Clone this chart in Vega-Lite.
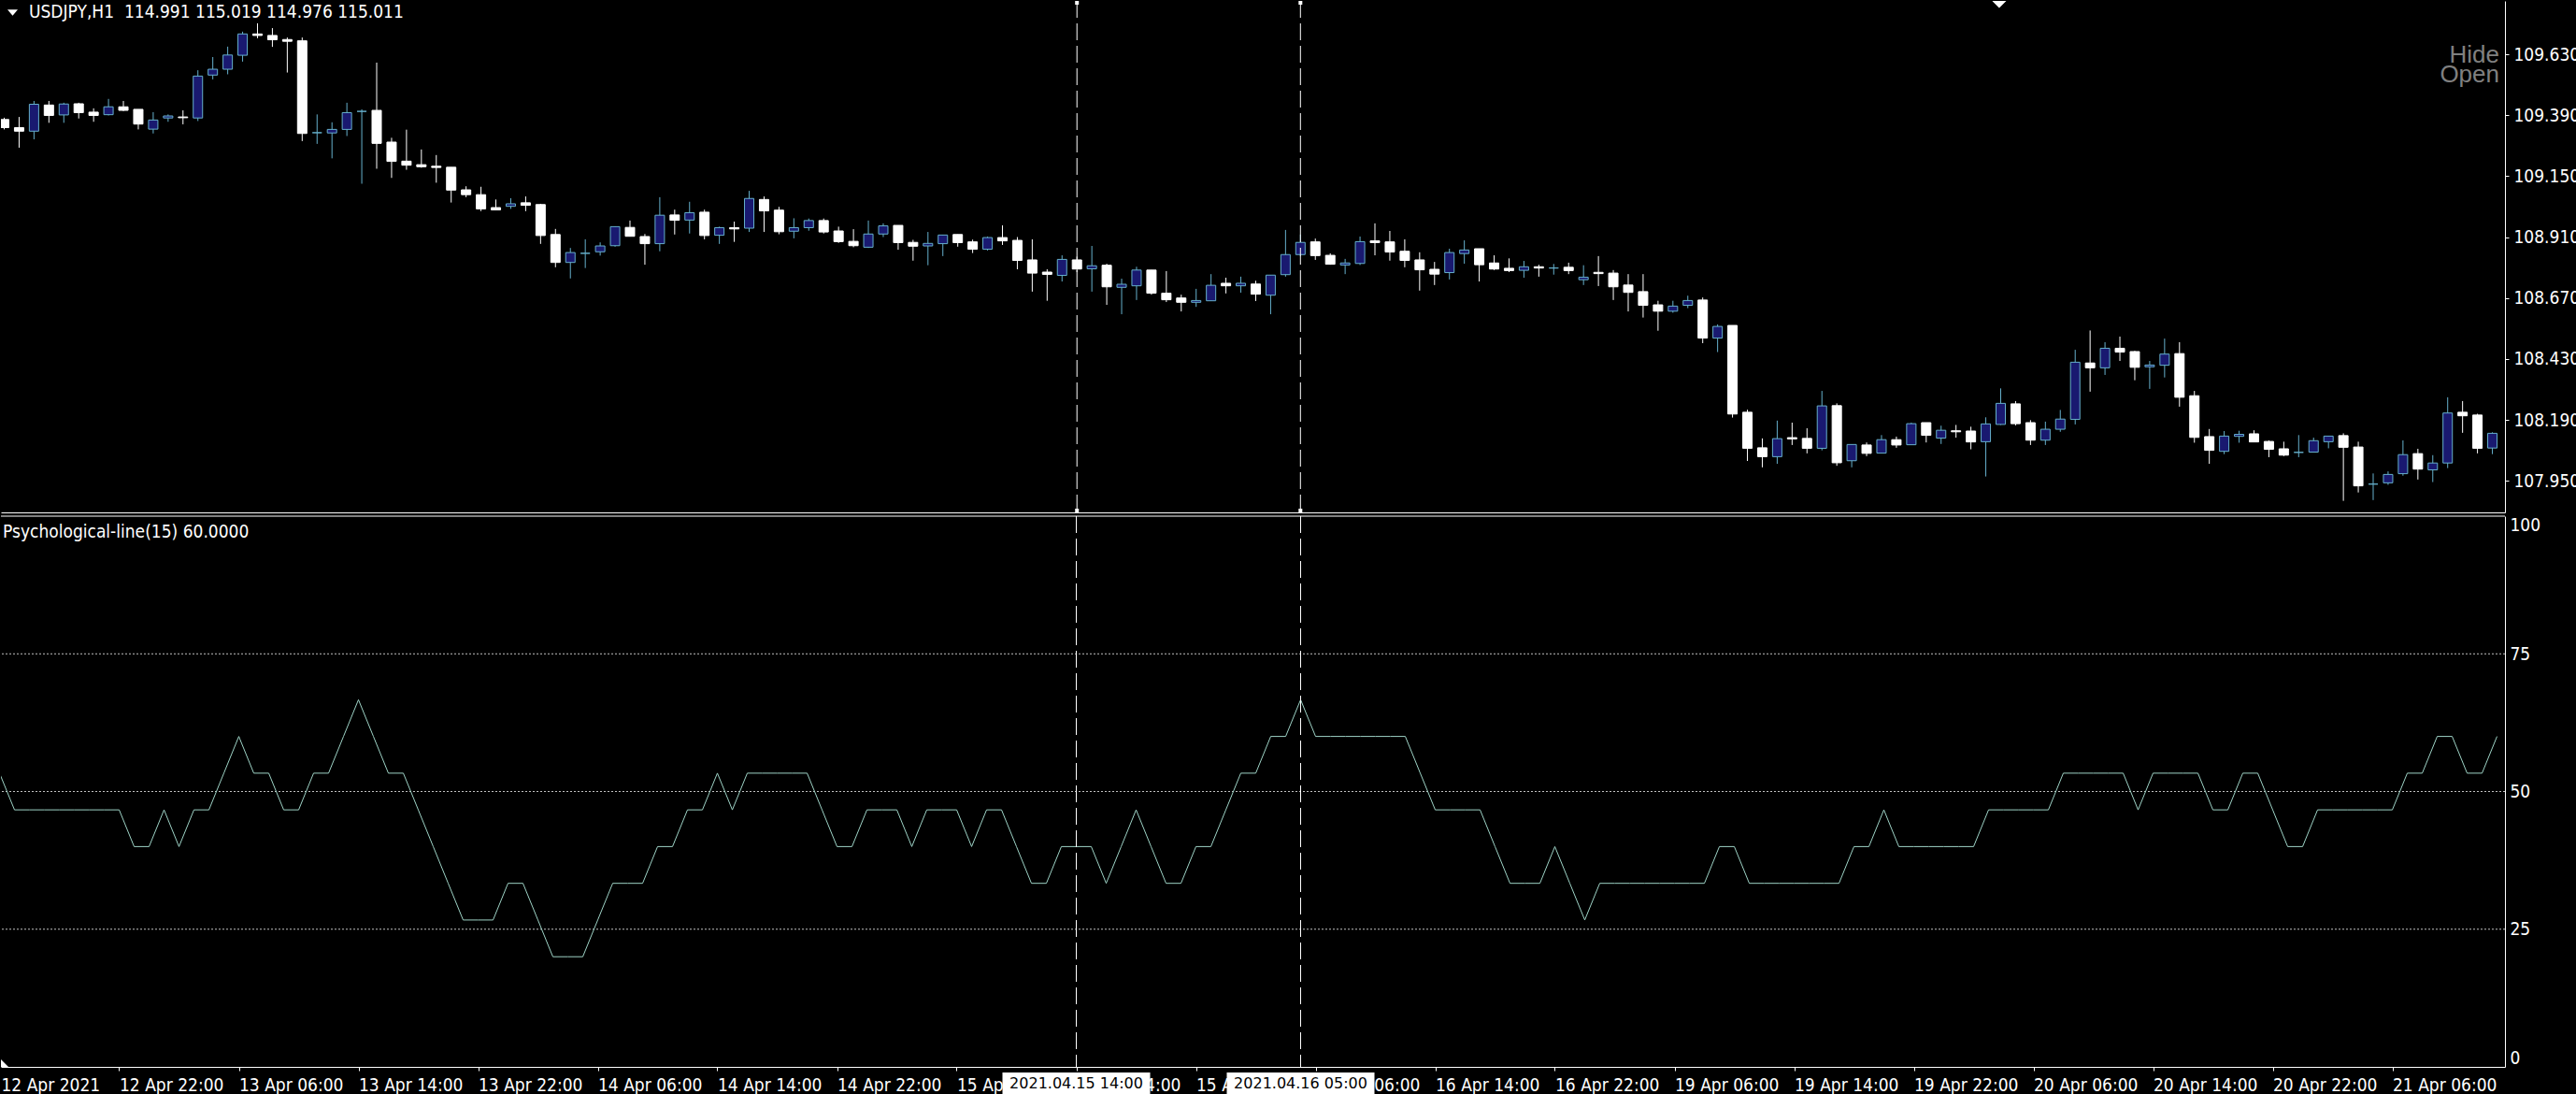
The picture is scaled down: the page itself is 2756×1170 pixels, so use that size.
{
"$schema": "https://vega.github.io/schema/vega-lite/v6.json",
"background": "black",
"padding": {"left": 0, "top": 0, "right": 0, "bottom": 1},
"bounds": "flush",
"spacing": 4,
"config": {
  "view": {"stroke": null},
  "font": "Liberation Sans Narrow, DejaVu Sans Condensed, Liberation Sans",
  "axis": {"labelFont": "Liberation Sans Narrow, DejaVu Sans Condensed, Liberation Sans", "labelFontSize": 19, "labelColor": "white", "domainColor": "white", "tickColor": "white", "grid": false, "domainWidth": 1, "tickWidth": 1}
},
"datasets": {
"cross": [{"i": 72, "lab": "2021.04.15 14:00"}, {"i": 87, "lab": "2021.04.16 05:00"}],
"lv": [{"v": 25}, {"v": 50}, {"v": 75}],
"bars": [
{"i":0,"o":109.373,"h":109.380,"l":109.334,"c":109.341,"p":53.33},
{"i":1,"o":109.341,"h":109.383,"l":109.262,"c":109.327,"p":46.67},
{"i":2,"o":109.327,"h":109.446,"l":109.295,"c":109.433,"p":46.67},
{"i":3,"o":109.430,"h":109.446,"l":109.360,"c":109.389,"p":46.67},
{"i":4,"o":109.391,"h":109.439,"l":109.360,"c":109.434,"p":46.67},
{"i":5,"o":109.435,"h":109.439,"l":109.377,"c":109.400,"p":46.67},
{"i":6,"o":109.402,"h":109.417,"l":109.364,"c":109.389,"p":46.67},
{"i":7,"o":109.392,"h":109.454,"l":109.389,"c":109.423,"p":46.67},
{"i":8,"o":109.423,"h":109.446,"l":109.406,"c":109.409,"p":46.67},
{"i":9,"o":109.413,"h":109.413,"l":109.334,"c":109.355,"p":40},
{"i":10,"o":109.335,"h":109.402,"l":109.318,"c":109.371,"p":40},
{"i":11,"o":109.379,"h":109.393,"l":109.364,"c":109.387,"p":46.67},
{"i":12,"o":109.383,"h":109.409,"l":109.354,"c":109.380,"p":40},
{"i":13,"o":109.379,"h":109.567,"l":109.367,"c":109.544,"p":46.67},
{"i":14,"o":109.548,"h":109.619,"l":109.531,"c":109.571,"p":46.67},
{"i":15,"o":109.571,"h":109.660,"l":109.551,"c":109.627,"p":53.33},
{"i":16,"o":109.626,"h":109.719,"l":109.601,"c":109.710,"p":60},
{"i":17,"o":109.710,"h":109.752,"l":109.693,"c":109.704,"p":53.33},
{"i":18,"o":109.704,"h":109.733,"l":109.659,"c":109.687,"p":53.33},
{"i":19,"o":109.688,"h":109.696,"l":109.558,"c":109.681,"p":46.67},
{"i":20,"o":109.683,"h":109.696,"l":109.288,"c":109.318,"p":46.67},
{"i":21,"o":109.321,"h":109.393,"l":109.277,"c":109.321,"p":53.33},
{"i":22,"o":109.320,"h":109.362,"l":109.220,"c":109.334,"p":53.33},
{"i":23,"o":109.334,"h":109.439,"l":109.308,"c":109.400,"p":60},
{"i":24,"o":109.405,"h":109.413,"l":109.120,"c":109.405,"p":66.67},
{"i":25,"o":109.409,"h":109.597,"l":109.179,"c":109.279,"p":60},
{"i":26,"o":109.284,"h":109.301,"l":109.143,"c":109.208,"p":53.33},
{"i":27,"o":109.209,"h":109.333,"l":109.175,"c":109.193,"p":53.33},
{"i":28,"o":109.195,"h":109.255,"l":109.183,"c":109.187,"p":46.67},
{"i":29,"o":109.189,"h":109.233,"l":109.124,"c":109.184,"p":40},
{"i":30,"o":109.185,"h":109.185,"l":109.046,"c":109.095,"p":33.33},
{"i":31,"o":109.096,"h":109.110,"l":109.067,"c":109.077,"p":26.67},
{"i":32,"o":109.077,"h":109.108,"l":109.012,"c":109.021,"p":26.67},
{"i":33,"o":109.026,"h":109.058,"l":109.017,"c":109.017,"p":26.67},
{"i":34,"o":109.031,"h":109.063,"l":109.021,"c":109.041,"p":33.33},
{"i":35,"o":109.045,"h":109.070,"l":109.012,"c":109.035,"p":33.33},
{"i":36,"o":109.038,"h":109.041,"l":108.883,"c":108.916,"p":26.67},
{"i":37,"o":108.920,"h":108.942,"l":108.791,"c":108.810,"p":20},
{"i":38,"o":108.810,"h":108.867,"l":108.747,"c":108.849,"p":20},
{"i":39,"o":108.846,"h":108.901,"l":108.788,"c":108.846,"p":20},
{"i":40,"o":108.852,"h":108.889,"l":108.837,"c":108.875,"p":26.67},
{"i":41,"o":108.876,"h":108.951,"l":108.872,"c":108.951,"p":33.33},
{"i":42,"o":108.948,"h":108.975,"l":108.913,"c":108.913,"p":33.33},
{"i":43,"o":108.912,"h":108.922,"l":108.801,"c":108.884,"p":33.33},
{"i":44,"o":108.884,"h":109.067,"l":108.854,"c":108.996,"p":40},
{"i":45,"o":108.997,"h":109.018,"l":108.920,"c":108.976,"p":40},
{"i":46,"o":108.977,"h":109.049,"l":108.924,"c":109.006,"p":46.67},
{"i":47,"o":109.008,"h":109.018,"l":108.901,"c":108.916,"p":46.67},
{"i":48,"o":108.917,"h":108.951,"l":108.883,"c":108.947,"p":53.33},
{"i":49,"o":108.947,"h":108.971,"l":108.891,"c":108.942,"p":46.67},
{"i":50,"o":108.945,"h":109.092,"l":108.930,"c":109.062,"p":53.33},
{"i":51,"o":109.058,"h":109.070,"l":108.930,"c":109.013,"p":53.33},
{"i":52,"o":109.016,"h":109.029,"l":108.921,"c":108.931,"p":53.33},
{"i":53,"o":108.933,"h":108.984,"l":108.905,"c":108.947,"p":53.33},
{"i":54,"o":108.947,"h":108.983,"l":108.935,"c":108.975,"p":53.33},
{"i":55,"o":108.975,"h":108.983,"l":108.924,"c":108.930,"p":46.67},
{"i":56,"o":108.934,"h":108.951,"l":108.887,"c":108.892,"p":40},
{"i":57,"o":108.893,"h":108.941,"l":108.870,"c":108.876,"p":40},
{"i":58,"o":108.870,"h":108.975,"l":108.867,"c":108.922,"p":46.67},
{"i":59,"o":108.922,"h":108.964,"l":108.910,"c":108.954,"p":46.67},
{"i":60,"o":108.956,"h":108.956,"l":108.860,"c":108.888,"p":46.67},
{"i":61,"o":108.889,"h":108.899,"l":108.817,"c":108.874,"p":40},
{"i":62,"o":108.875,"h":108.930,"l":108.799,"c":108.885,"p":46.67},
{"i":63,"o":108.884,"h":108.918,"l":108.835,"c":108.918,"p":46.67},
{"i":64,"o":108.920,"h":108.920,"l":108.872,"c":108.888,"p":46.67},
{"i":65,"o":108.891,"h":108.900,"l":108.847,"c":108.862,"p":40},
{"i":66,"o":108.862,"h":108.912,"l":108.857,"c":108.908,"p":46.67},
{"i":67,"o":108.908,"h":108.956,"l":108.879,"c":108.895,"p":46.67},
{"i":68,"o":108.897,"h":108.910,"l":108.783,"c":108.818,"p":40},
{"i":69,"o":108.820,"h":108.901,"l":108.695,"c":108.768,"p":33.33},
{"i":70,"o":108.772,"h":108.783,"l":108.659,"c":108.763,"p":33.33},
{"i":71,"o":108.759,"h":108.838,"l":108.735,"c":108.822,"p":40},
{"i":72,"o":108.820,"h":108.833,"l":108.772,"c":108.784,"p":40},
{"i":73,"o":108.785,"h":108.875,"l":108.695,"c":108.797,"p":40},
{"i":74,"o":108.799,"h":108.805,"l":108.643,"c":108.714,"p":33.33},
{"i":75,"o":108.712,"h":108.746,"l":108.606,"c":108.724,"p":40},
{"i":76,"o":108.718,"h":108.793,"l":108.662,"c":108.780,"p":46.67},
{"i":77,"o":108.780,"h":108.780,"l":108.683,"c":108.689,"p":40},
{"i":78,"o":108.689,"h":108.776,"l":108.654,"c":108.663,"p":33.33},
{"i":79,"o":108.670,"h":108.683,"l":108.617,"c":108.653,"p":33.33},
{"i":80,"o":108.653,"h":108.706,"l":108.635,"c":108.660,"p":40},
{"i":81,"o":108.659,"h":108.764,"l":108.659,"c":108.720,"p":40},
{"i":82,"o":108.728,"h":108.750,"l":108.688,"c":108.718,"p":46.67},
{"i":83,"o":108.718,"h":108.754,"l":108.691,"c":108.728,"p":53.33},
{"i":84,"o":108.725,"h":108.738,"l":108.658,"c":108.685,"p":53.33},
{"i":85,"o":108.681,"h":108.760,"l":108.606,"c":108.760,"p":60},
{"i":86,"o":108.762,"h":108.938,"l":108.754,"c":108.841,"p":60},
{"i":87,"o":108.841,"h":108.920,"l":108.834,"c":108.889,"p":66.67},
{"i":88,"o":108.891,"h":108.904,"l":108.820,"c":108.837,"p":60},
{"i":89,"o":108.838,"h":108.846,"l":108.801,"c":108.803,"p":60},
{"i":90,"o":108.800,"h":108.824,"l":108.764,"c":108.808,"p":60},
{"i":91,"o":108.806,"h":108.912,"l":108.800,"c":108.892,"p":60},
{"i":92,"o":108.895,"h":108.964,"l":108.838,"c":108.888,"p":60},
{"i":93,"o":108.891,"h":108.934,"l":108.817,"c":108.851,"p":60},
{"i":94,"o":108.854,"h":108.901,"l":108.791,"c":108.818,"p":60},
{"i":95,"o":108.820,"h":108.850,"l":108.699,"c":108.781,"p":53.33},
{"i":96,"o":108.783,"h":108.812,"l":108.721,"c":108.764,"p":46.67},
{"i":97,"o":108.770,"h":108.864,"l":108.743,"c":108.849,"p":46.67},
{"i":98,"o":108.845,"h":108.897,"l":108.805,"c":108.859,"p":46.67},
{"i":99,"o":108.864,"h":108.864,"l":108.735,"c":108.801,"p":46.67},
{"i":100,"o":108.808,"h":108.838,"l":108.780,"c":108.784,"p":40},
{"i":101,"o":108.787,"h":108.826,"l":108.772,"c":108.778,"p":33.33},
{"i":102,"o":108.779,"h":108.816,"l":108.750,"c":108.793,"p":33.33},
{"i":103,"o":108.793,"h":108.801,"l":108.754,"c":108.788,"p":33.33},
{"i":104,"o":108.788,"h":108.804,"l":108.762,"c":108.788,"p":40},
{"i":105,"o":108.791,"h":108.809,"l":108.764,"c":108.778,"p":33.33},
{"i":106,"o":108.742,"h":108.799,"l":108.721,"c":108.752,"p":26.67},
{"i":107,"o":108.771,"h":108.835,"l":108.717,"c":108.766,"p":33.33},
{"i":108,"o":108.768,"h":108.780,"l":108.662,"c":108.714,"p":33.33},
{"i":109,"o":108.721,"h":108.764,"l":108.617,"c":108.692,"p":33.33},
{"i":110,"o":108.695,"h":108.764,"l":108.593,"c":108.641,"p":33.33},
{"i":111,"o":108.643,"h":108.659,"l":108.541,"c":108.618,"p":33.33},
{"i":112,"o":108.618,"h":108.659,"l":108.612,"c":108.638,"p":33.33},
{"i":113,"o":108.641,"h":108.679,"l":108.630,"c":108.660,"p":33.33},
{"i":114,"o":108.662,"h":108.672,"l":108.492,"c":108.512,"p":33.33},
{"i":115,"o":108.512,"h":108.566,"l":108.457,"c":108.558,"p":40},
{"i":116,"o":108.562,"h":108.562,"l":108.199,"c":108.213,"p":40},
{"i":117,"o":108.220,"h":108.230,"l":108.028,"c":108.078,"p":33.33},
{"i":118,"o":108.080,"h":108.117,"l":108.003,"c":108.045,"p":33.33},
{"i":119,"o":108.045,"h":108.187,"l":108.017,"c":108.116,"p":33.33},
{"i":120,"o":108.120,"h":108.179,"l":108.091,"c":108.115,"p":33.33},
{"i":121,"o":108.117,"h":108.157,"l":108.058,"c":108.078,"p":33.33},
{"i":122,"o":108.078,"h":108.304,"l":108.070,"c":108.245,"p":33.33},
{"i":123,"o":108.246,"h":108.255,"l":108.009,"c":108.021,"p":33.33},
{"i":124,"o":108.029,"h":108.093,"l":108.003,"c":108.093,"p":40},
{"i":125,"o":108.091,"h":108.101,"l":108.047,"c":108.058,"p":40},
{"i":126,"o":108.059,"h":108.130,"l":108.059,"c":108.112,"p":46.67},
{"i":127,"o":108.112,"h":108.124,"l":108.080,"c":108.091,"p":40},
{"i":128,"o":108.092,"h":108.179,"l":108.092,"c":108.175,"p":40},
{"i":129,"o":108.179,"h":108.179,"l":108.101,"c":108.129,"p":40},
{"i":130,"o":108.118,"h":108.167,"l":108.095,"c":108.149,"p":40},
{"i":131,"o":108.147,"h":108.170,"l":108.120,"c":108.143,"p":40},
{"i":132,"o":108.146,"h":108.163,"l":108.074,"c":108.103,"p":40},
{"i":133,"o":108.104,"h":108.200,"l":107.967,"c":108.174,"p":46.67},
{"i":134,"o":108.172,"h":108.314,"l":108.170,"c":108.255,"p":46.67},
{"i":135,"o":108.253,"h":108.264,"l":108.168,"c":108.175,"p":46.67},
{"i":136,"o":108.179,"h":108.189,"l":108.091,"c":108.110,"p":46.67},
{"i":137,"o":108.110,"h":108.183,"l":108.091,"c":108.153,"p":46.67},
{"i":138,"o":108.153,"h":108.229,"l":108.143,"c":108.193,"p":53.33},
{"i":139,"o":108.192,"h":108.466,"l":108.172,"c":108.417,"p":53.33},
{"i":140,"o":108.414,"h":108.542,"l":108.301,"c":108.395,"p":53.33},
{"i":141,"o":108.395,"h":108.496,"l":108.367,"c":108.472,"p":53.33},
{"i":142,"o":108.472,"h":108.518,"l":108.422,"c":108.457,"p":53.33},
{"i":143,"o":108.459,"h":108.462,"l":108.346,"c":108.397,"p":46.67},
{"i":144,"o":108.399,"h":108.422,"l":108.312,"c":108.406,"p":53.33},
{"i":145,"o":108.405,"h":108.510,"l":108.357,"c":108.449,"p":53.33},
{"i":146,"o":108.451,"h":108.496,"l":108.242,"c":108.279,"p":53.33},
{"i":147,"o":108.285,"h":108.304,"l":108.100,"c":108.121,"p":53.33},
{"i":148,"o":108.124,"h":108.154,"l":108.017,"c":108.070,"p":46.67},
{"i":149,"o":108.066,"h":108.146,"l":108.055,"c":108.126,"p":46.67},
{"i":150,"o":108.125,"h":108.147,"l":108.100,"c":108.133,"p":53.33},
{"i":151,"o":108.135,"h":108.149,"l":108.103,"c":108.103,"p":53.33},
{"i":152,"o":108.105,"h":108.109,"l":108.043,"c":108.074,"p":46.67},
{"i":153,"o":108.076,"h":108.104,"l":108.047,"c":108.051,"p":40},
{"i":154,"o":108.062,"h":108.130,"l":108.043,"c":108.062,"p":40},
{"i":155,"o":108.063,"h":108.120,"l":108.063,"c":108.108,"p":46.67},
{"i":156,"o":108.104,"h":108.126,"l":108.078,"c":108.126,"p":46.67},
{"i":157,"o":108.128,"h":108.137,"l":107.871,"c":108.082,"p":46.67},
{"i":158,"o":108.083,"h":108.104,"l":107.904,"c":107.930,"p":46.67},
{"i":159,"o":107.937,"h":107.979,"l":107.874,"c":107.937,"p":46.67},
{"i":160,"o":107.942,"h":107.987,"l":107.934,"c":107.975,"p":46.67},
{"i":161,"o":107.978,"h":108.109,"l":107.970,"c":108.053,"p":53.33},
{"i":162,"o":108.057,"h":108.076,"l":107.955,"c":107.996,"p":53.33},
{"i":163,"o":107.993,"h":108.051,"l":107.945,"c":108.020,"p":60},
{"i":164,"o":108.020,"h":108.279,"l":108.000,"c":108.217,"p":60},
{"i":165,"o":108.220,"h":108.264,"l":108.139,"c":108.206,"p":53.33},
{"i":166,"o":108.209,"h":108.214,"l":108.058,"c":108.078,"p":53.33},
{"i":167,"o":108.079,"h":108.141,"l":108.055,"c":108.137,"p":60}
]
},
"vconcat": [
{
  "width": 2679,
  "height": 547,
  "layer": [
    {
      "data": {"name": "bars"},
      "mark": {"type": "rule", "clip": true, "strokeWidth": 1},
      "encoding": {
        "x": {"field": "i", "type": "quantitative", "scale": {"domain": [0.09375, 167.53125], "nice": false, "zero": false},
              "axis": {"orient": "bottom", "labels": false, "ticks": false, "domain": true, "title": null}},
        "y": {"field": "l", "type": "quantitative", "scale": {"domain": [107.8255, 109.84], "nice": false, "zero": false},
              "axis": {"orient": "right", "values": [107.95, 108.19, 108.43, 108.67, 108.91, 109.15, 109.39, 109.63], "format": ".3f", "tickSize": 4, "labelPadding": 5, "title": null, "labelBaseline": "middle"}},
        "y2": {"field": "h"},
        "color": {"condition": {"test": "datum.c >= datum.o", "value": "#66b0cc"}, "value": "#ffffff"}
      }
    },
    {
      "data": {"name": "bars"},
      "mark": {"type": "bar", "width": 10, "clip": true, "strokeWidth": 1},
      "encoding": {
        "x": {"field": "i", "type": "quantitative"},
        "y": {"field": "o", "type": "quantitative"},
        "y2": {"field": "c"},
        "fill": {"condition": {"test": "datum.c >= datum.o", "value": "#191970"}, "value": "#ffffff"},
        "stroke": {"condition": {"test": "datum.c >= datum.o", "value": "#66b0cc"}, "value": "#ffffff"}
      }
    },
    {
      "data": {"name": "cross"},
      "mark": {"type": "rule", "strokeDash": [18, 6], "color": "#ffffff", "strokeWidth": 1},
      "encoding": {"x": {"field": "i", "type": "quantitative"}}
    },
    {
      "data": {"name": "cross"},
      "mark": {"type": "point", "shape": "square", "size": 16, "filled": true, "color": "#ffffff", "opacity": 1, "yOffset": 2},
      "encoding": {"x": {"field": "i", "type": "quantitative"}, "y": {"datum": 109.84}}
    },
    {
      "data": {"name": "cross"},
      "mark": {"type": "point", "shape": "square", "size": 16, "filled": true, "color": "#ffffff", "opacity": 1, "yOffset": -2},
      "encoding": {"x": {"field": "i", "type": "quantitative"}, "y": {"datum": 107.8255}}
    },
    {
      "data": {"values": [{"t": "USDJPY,H1\u00a0 114.991 115.019 114.976 115.011"}]},
      "mark": {"type": "text", "align": "left", "baseline": "alphabetic", "dx": 25, "dy": 18, "color": "#ffffff", "fontSize": 19},
      "encoding": {"x": {"datum": 0.09375}, "y": {"datum": 109.84}, "text": {"field": "t"}}
    },
    {
      "data": {"values": [{"t": "Hide"}]},
      "mark": {"type": "text", "align": "right", "baseline": "alphabetic", "dx": -1, "dy": 66, "color": "#808080", "fontSize": 26, "font": "Liberation Sans"},
      "encoding": {"x": {"datum": 167.53125}, "y": {"datum": 109.84}, "text": {"field": "t"}}
    },
    {
      "data": {"values": [{"t": "Open"}]},
      "mark": {"type": "text", "align": "right", "baseline": "alphabetic", "dx": -1, "dy": 87, "color": "#808080", "fontSize": 26, "font": "Liberation Sans"},
      "encoding": {"x": {"datum": 167.53125}, "y": {"datum": 109.84}, "text": {"field": "t"}}
    },
    {
      "data": {"values": [{}]},
      "mark": {"type": "point", "shape": "M-1,-0.6L1,-0.6L0,0.6Z", "size": 121, "filled": true, "color": "#ffffff", "opacity": 1, "xOffset": 7.5, "yOffset": 12.5},
      "encoding": {"x": {"datum": 0.09375}, "y": {"datum": 109.84}}
    },
    {
      "data": {"values": [{}]},
      "mark": {"type": "point", "shape": "M-1,0L1,0L0,1Z", "size": 225, "filled": true, "color": "#ffffff", "opacity": 1},
      "encoding": {"x": {"datum": 133.9}, "y": {"datum": 109.84}}
    }
  ]
},
{
  "width": 2679,
  "height": 589,
  "layer": [
    {
      "data": {"name": "lv"},
      "mark": {"type": "rule", "strokeDash": [2, 2], "color": "#c0c0c0", "strokeWidth": 1},
      "encoding": {
        "y": {"field": "v", "type": "quantitative", "scale": {"domain": [0, 100], "nice": false, "zero": false},
              "axis": {"orient": "right", "values": [0, 25, 50, 75, 100], "ticks": false, "labelPadding": 5, "labelFlush": true, "title": null}}
      }
    },
    {
      "data": {"name": "bars"},
      "mark": {"type": "line", "clip": true, "color": "#9ed3c6", "strokeWidth": 1},
      "encoding": {
        "x": {"field": "i", "type": "quantitative", "scale": {"domain": [0.09375, 167.53125], "nice": false, "zero": false},
              "axis": {"orient": "bottom", "title": null,
                       "values": [0.09375, 8, 16, 24, 32, 40, 48, 56, 64, 72, 80, 88, 96, 104, 112, 120, 128, 136, 144, 152, 160],
                       "labelExpr": "['12 Apr 2021','12 Apr 22:00','13 Apr 06:00','13 Apr 14:00','13 Apr 22:00','14 Apr 06:00','14 Apr 14:00','14 Apr 22:00','15 Apr 06:00','15 Apr 14:00','15 Apr 22:00','16 Apr 06:00','16 Apr 14:00','16 Apr 22:00','19 Apr 06:00','19 Apr 14:00','19 Apr 22:00','20 Apr 06:00','20 Apr 14:00','20 Apr 22:00','21 Apr 06:00'][round(datum.value/8)]",
                       "labelAlign": "left", "labelBaseline": "top", "tickSize": 4, "labelPadding": 6, "labelOverlap": false, "labelFlush": false,
                       "tickColor": {"condition": {"test": "datum.value < 1", "value": "transparent"}, "value": "#ffffff"}}},
        "y": {"field": "p", "type": "quantitative"}
      }
    },
    {
      "data": {"name": "cross"},
      "mark": {"type": "rule", "strokeDash": [18, 6], "color": "#ffffff", "strokeWidth": 1},
      "encoding": {"x": {"field": "i", "type": "quantitative"}}
    },
    {
      "data": {"values": [{}]},
      "mark": {"type": "rule", "color": "#ffffff", "strokeWidth": 1},
      "encoding": {"y": {"datum": 100}}
    },
    {
      "data": {"values": [{}]},
      "mark": {"type": "point", "shape": "M-1,-1L-1,1L1,1Z", "size": 64, "filled": true, "color": "#ffffff", "opacity": 1, "xOffset": 4, "yOffset": -4},
      "encoding": {"x": {"datum": 0.09375}, "y": {"datum": 0}}
    },
    {
      "data": {"name": "cross"},
      "mark": {"type": "point", "shape": "M-1,-0.1456L1,-0.1456L1,0.1456L-1,0.1456Z", "size": 24964, "filled": true, "color": "#ffffff", "opacity": 1, "strokeWidth": 0, "yOffset": 17.5},
      "encoding": {"x": {"field": "i", "type": "quantitative"}, "y": {"datum": 0}}
    },
    {
      "data": {"name": "cross"},
      "mark": {"type": "text", "color": "#000000", "font": "DejaVu Sans", "fontSize": 16, "align": "center", "baseline": "middle", "dy": 17.5},
      "encoding": {"x": {"field": "i", "type": "quantitative"}, "y": {"datum": 0}, "text": {"field": "lab"}}
    },
    {
      "data": {"values": [{"t": "Psychological-line(15) 60.0000"}]},
      "mark": {"type": "text", "align": "left", "baseline": "alphabetic", "dx": 2, "dy": 23, "color": "#ffffff", "fontSize": 19},
      "encoding": {"x": {"datum": 0.09375}, "y": {"datum": 100}, "text": {"field": "t"}}
    }
  ]
}
]
}
